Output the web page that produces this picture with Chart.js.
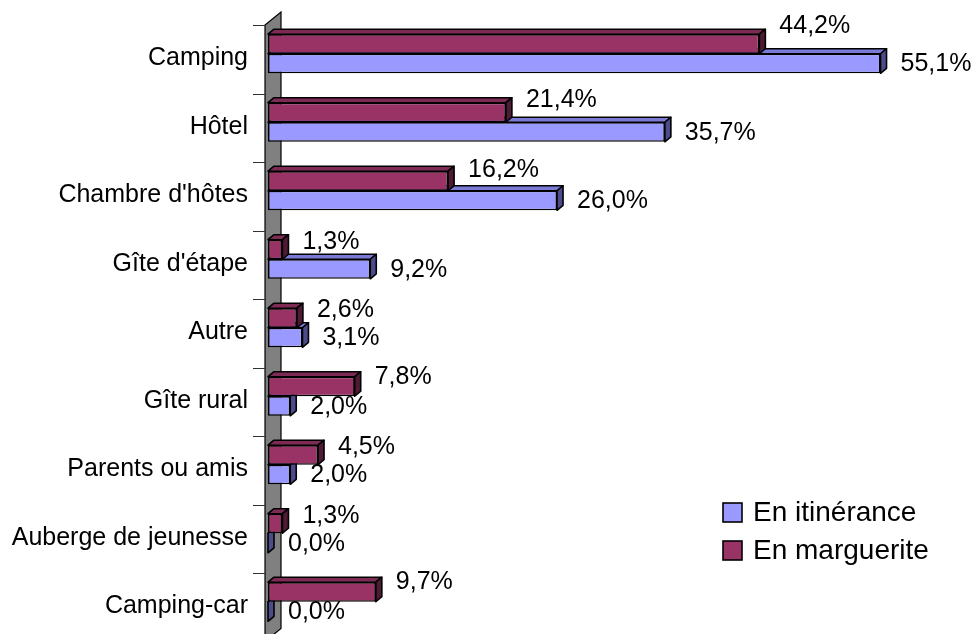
<!DOCTYPE html>
<html lang="fr">
<head>
<meta charset="utf-8">
<script src="https://cdn.jsdelivr.net/npm/chart.js@4.4.1/dist/chart.umd.min.js"></script>
<style>
  html, body { margin: 0; padding: 0; background: #fff; overflow: hidden; }
  #wrap { position: relative; width: 974px; height: 660px; }
</style>
</head>
<body>
<div id="wrap"><canvas id="hebergementChart"></canvas></div>
<script>
/* Données : type d'hébergement (%) */
const categories = ["Camping", "Hôtel", "Chambre d'hôtes", "Gîte d'étape", "Autre",
                    "Gîte rural", "Parents ou amis", "Auberge de jeunesse", "Camping-car"];
const enItinerance = [55.1, 35.7, 26.0, 9.2, 3.1, 2.0, 2.0, 0.0, 0.0];
const enMarguerite = [44.2, 21.4, 16.2, 1.3, 2.6, 7.8, 4.5, 1.3, 9.7];
const serieLabels = ["En itinérance", "En marguerite"];

const FONT = "'Liberation Sans', Arial, sans-serif";
const DX = 6, DY = 5;          // profondeur des barres
const SHIFT = 5.5;             // décalage vertical des bandes / barres
const TRAIT = 1.6;

const couleurs = {
  "En itinérance": { front: "#9999ff", top: "#7b7bd6", side: "#4c4c8c" },
  "En marguerite": { front: "#993366", top: "#7d2a54", side: "#4f1a35" }
};

const fmt = v => v.toFixed(1).replace(".", ",") + "%";

/* paroi grise + petites graduations à gauche */
const paroi = {
  id: "paroi",
  beforeDatasetsDraw(chart) {
    const { ctx, chartArea, scales } = chart;
    const y = scales.y;
    const band = (y.getPixelForValue(1) - y.getPixelForValue(0));
    const x0 = chartArea.left - 3;
    const top = y.getPixelForValue(0) - band / 2 + SHIFT;
    const bottom = y.getPixelForValue(categories.length - 1) + band / 2 + SHIFT;
    ctx.save();
    ctx.fillStyle = "#808080";
    ctx.strokeStyle = "#000";
    ctx.lineWidth = 1.2;
    ctx.beginPath();
    ctx.moveTo(x0, bottom);
    ctx.lineTo(x0, top);
    ctx.lineTo(x0 + 16, top - 13);
    ctx.lineTo(x0 + 16, bottom - 13);
    ctx.closePath();
    ctx.fill();
    ctx.stroke();
    ctx.strokeStyle = "#333";
    ctx.lineWidth = 1;
    for (let i = 0; i <= categories.length; i++) {
      const ty = Math.round(top + i * band) + 0.5;
      ctx.beginPath();
      ctx.moveTo(x0 - 12, ty);
      ctx.lineTo(x0, ty);
      ctx.stroke();
    }
    ctx.restore();
  }
};

/* faces du dessus et de côté de chaque barre */
const relief = {
  id: "relief",
  afterDatasetDraw(chart, args) {
    const { ctx } = chart;
    const ds = chart.data.datasets[args.index];
    const c = couleurs[ds.label];
    ctx.save();
    ctx.strokeStyle = "#000";
    ctx.lineWidth = TRAIT;
    ctx.lineJoin = "round";
    args.meta.data.forEach(el => {
      const { x, y, base, height } = el.getProps(["x", "y", "base", "height"], true);
      const t = y - height / 2, b = y + height / 2;
      ctx.fillStyle = c.top;
      ctx.beginPath();
      ctx.moveTo(base, t);
      ctx.lineTo(base + DX, t - DY);
      ctx.lineTo(x + DX, t - DY);
      ctx.lineTo(x, t);
      ctx.closePath();
      ctx.fill();
      ctx.stroke();
      ctx.fillStyle = c.side;
      ctx.beginPath();
      ctx.moveTo(x, t);
      ctx.lineTo(x + DX, t - DY);
      ctx.lineTo(x + DX, b - DY);
      ctx.lineTo(x, b);
      ctx.closePath();
      ctx.fill();
      ctx.stroke();
    });
    ctx.restore();
  },
  afterDatasetsDraw(chart) {
    const { ctx } = chart;
    ctx.save();
    ctx.fillStyle = "#000";
    ctx.font = "25px " + FONT;
    ctx.textAlign = "left";
    ctx.textBaseline = "middle";
    chart.data.datasets.forEach((ds, i) => {
      chart.getDatasetMeta(i).data.forEach((el, j) => {
        const v = ds.data[j];
        const { x, y } = el.getProps(["x", "y"], true);
        const dy = ds.label === "En marguerite" ? -7 - v * 0.25 : 1;
        ctx.fillText(fmt(v), x + 20, y + dy);
      });
    });
    ctx.restore();
  }
};

/* légende dans la zone du graphique */
const legende = {
  id: "legende",
  afterDraw(chart) {
    const { ctx } = chart;
    ctx.save();
    ctx.font = "28px " + FONT;
    ctx.textBaseline = "middle";
    serieLabels.forEach((lab, i) => {
      const yy = 503 + i * 38;
      ctx.fillStyle = couleurs[lab].front;
      ctx.fillRect(723, yy, 19, 19);
      ctx.strokeStyle = "#000";
      ctx.lineWidth = TRAIT;
      ctx.strokeRect(723, yy, 19, 19);
      ctx.fillStyle = "#000";
      ctx.fillText(lab, 753, yy + 10);
    });
    ctx.restore();
  }
};

new Chart(document.getElementById("hebergementChart"), {
  type: "bar",
  data: {
    labels: categories,
    datasets: [
      {
        label: "En marguerite",
        data: enMarguerite,
        backgroundColor: couleurs["En marguerite"].front,
        borderColor: "#000",
        borderWidth: TRAIT,
        borderSkipped: false
      },
      {
        label: "En itinérance",
        data: enItinerance,
        backgroundColor: couleurs["En itinérance"].front,
        borderColor: "#000",
        borderWidth: TRAIT,
        borderSkipped: false
      }
    ]
  },
  options: {
    indexAxis: "y",
    responsive: true,
    maintainAspectRatio: false,
    animation: false,
    layout: { padding: { top: 19.5, bottom: 24, left: 0, right: 39 } },
    datasets: { bar: { categoryPercentage: 0.57, barPercentage: 1 } },
    plugins: { legend: { display: false }, tooltip: { enabled: false } },
    scales: {
      x: { display: false, min: 0, max: 60 },
      y: {
        grid: { display: false, drawTicks: false },
        border: { display: false },
        ticks: {
          color: "#000",
          font: { size: 25, family: FONT },
          padding: 20,
          labelOffset: 4.5,
          autoSkip: false
        },
        afterFit(s) {
          s.width = 268;
          s.paddingTop = 0;
          s.paddingBottom = 0;
        }
      }
    }
  },
  plugins: [paroi, relief, legende]
});
</script>
</body>
</html>
